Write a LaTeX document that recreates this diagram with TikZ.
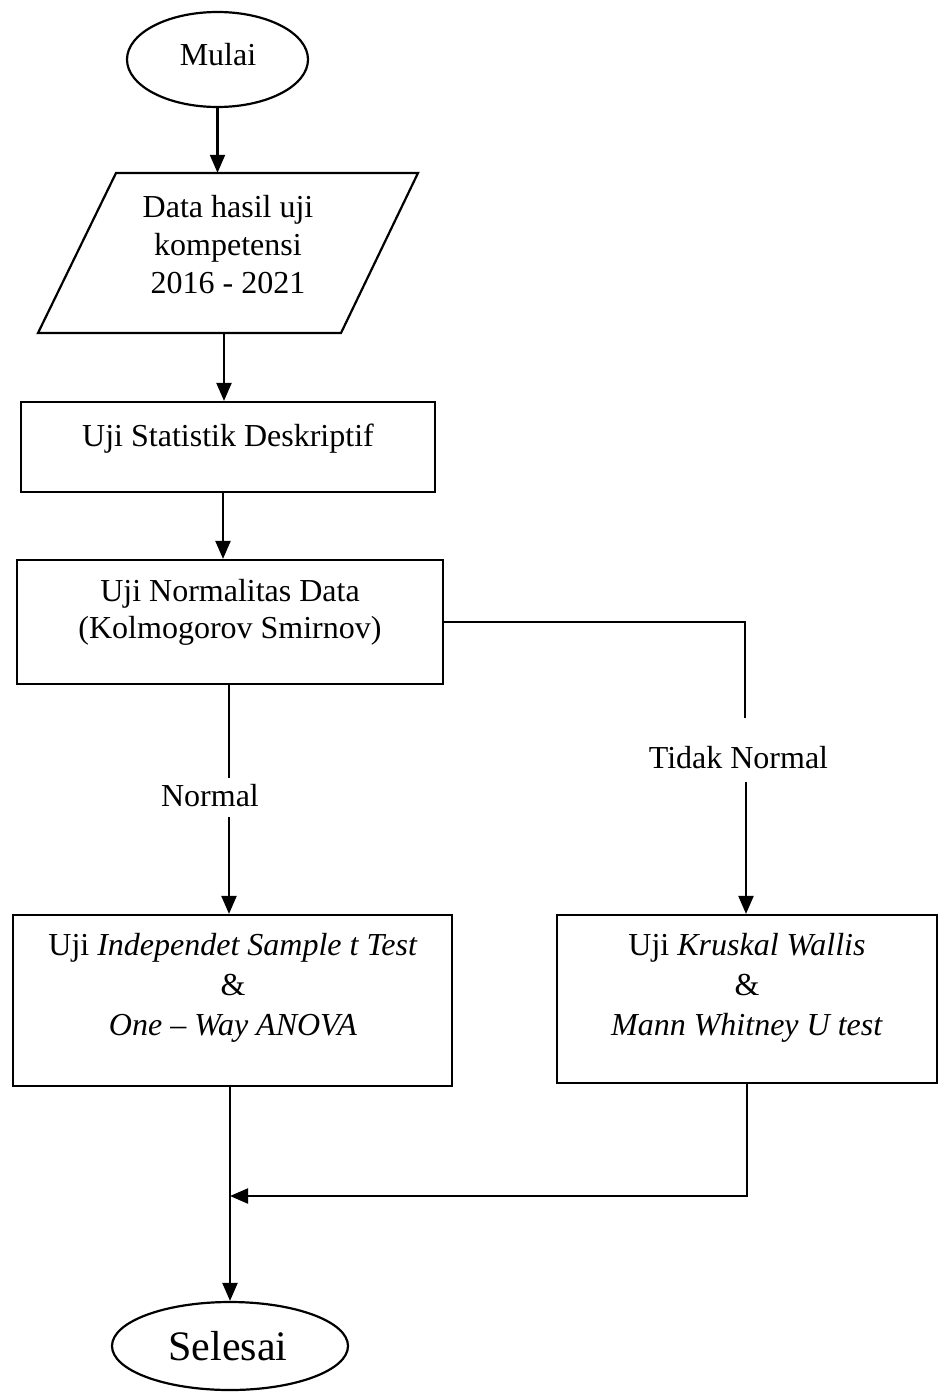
\documentclass[tikz,border=0pt]{standalone}
\usepackage{fontspec}
\setmainfont{Liberation Serif}
\usetikzlibrary{arrows.meta,shapes.geometric}
\begin{document}
\begin{tikzpicture}[x=1pt,y=-1pt,
  ln/.style={line width=2.2pt},
  arr/.style={line width=2.2pt,-{Triangle[length=18pt,width=15pt]}},
  box/.style={draw,line width=2.2pt,rectangle,inner sep=0pt},
  oval/.style={draw,line width=2.2pt,ellipse,inner sep=0pt},
  txt/.style={font=\fontsize{32}{38}\selectfont,anchor=base,inner sep=0pt},
]
\useasboundingbox (0,0) rectangle (938,1392);

% start
\node[oval,minimum width=181pt,minimum height=95pt] (start) at (217.5,59.5) {};
\node[txt] (tstart) at (218,65) {Mulai};

% data (parallelogram)
\node[inner sep=0pt,minimum width=380pt,minimum height=160pt] (data) at (228,253) {};
\draw[ln] (116,173) -- (418,173) -- (341,333) -- (38,333) -- cycle;
\node[txt] (d1) at (228,217) {Data hasil uji};
\node[txt] (d2) at (228,255) {kompetensi};
\node[txt] (d3) at (228,293) {2016 - 2021};
\draw[arr] (start.south) -- (start.south |- data.north);

% statistik deskriptif
\node[box,minimum width=414pt,minimum height=90pt] (stat) at (228,447) {};
\node[txt] (s1) at (228,446) {Uji Statistik Deskriptif};
\draw[arr] ([xshift=-4pt]data.south) -- ([xshift=-4pt]data.south |- stat.north);

% normalitas
\node[box,minimum width=426pt,minimum height=124pt] (norm) at (230,622) {};
\node[txt] (n1) at (230,601) {Uji Normalitas Data};
\node[txt] (n2) at (230,638) {(Kolmogorov Smirnov)};
\draw[arr] ([xshift=-5pt]stat.south) -- ([xshift=-5pt]stat.south |- norm.north);

% parametric
\node[box,minimum width=439pt,minimum height=171pt] (ind) at (232.5,1000.5) {};
\node[txt] (i1) at (233,955) {Uji \textit{Independet Sample t Test}};
\node[txt] (i2) at (233,995) {\&};
\node[txt] (i3) at (233,1035) {\textit{One – Way ANOVA}};

% non-parametric
\node[box,minimum width=380pt,minimum height=168pt] (kw) at (747,999) {};
\node[txt] (k1) at (747,955) {Uji \textit{Kruskal Wallis}};
\node[txt] (k2) at (747,995) {\&};
\node[txt] (k3) at (747,1035) {\textit{Mann Whitney U test}};

% left branch (Normal)
\coordinate (l1) at (229,778);
\coordinate (l2) at (229,817);
\draw[ln] (norm.south -| l1) -- (l1);
\node[txt] (lnormal) at (210,806) {Normal};
\draw[arr] (l2) -- (l2 |- ind.north);

% right branch (Tidak Normal)
\coordinate (r1) at (745,718);
\coordinate (r2) at (746,782);
\draw[ln] (norm.east) -| (r1);
\node[txt] (ltn) at (738.5,768) {Tidak Normal};
\draw[arr] (r2) -- (r2 |- kw.north);

% end
\node[oval,minimum width=236pt,minimum height=88pt] (end) at (230,1346) {};
\node[txt,font=\fontsize{42}{50}\selectfont] (tend) at (228,1360) {Selesai};

\coordinate (m) at (230,1196);
\draw[arr] (kw.south) |- (m);
\draw[arr] (ind.south -| end.north) -- (end.north);
\end{tikzpicture}
\end{document}
